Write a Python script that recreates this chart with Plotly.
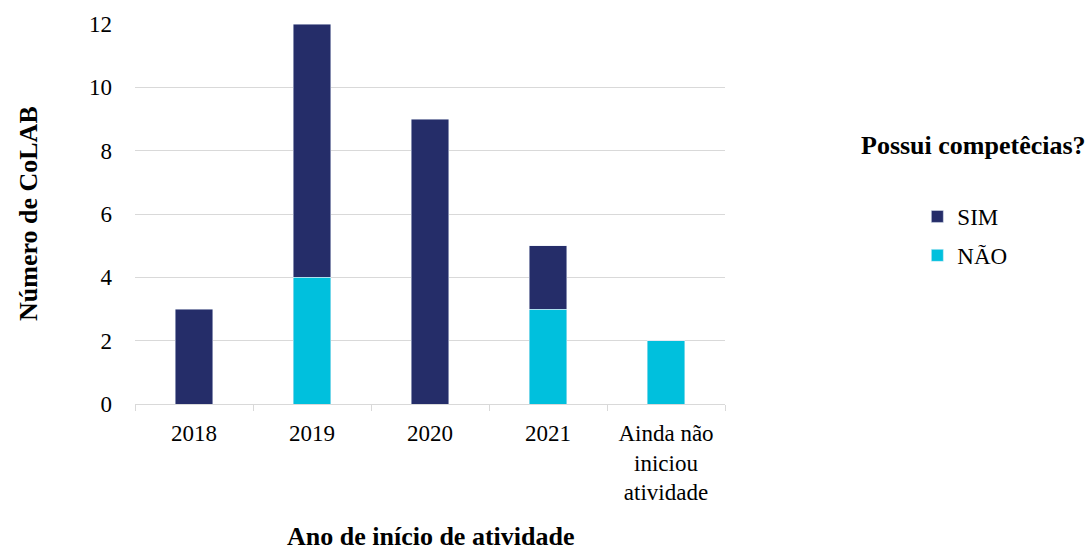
import plotly.graph_objects as go

categories = ["2018", "2019", "2020", "2021", "Ainda não<br>iniciou<br>atividade"]
sim_values = [3, 8, 9, 2, 0]
nao_values = [0, 4, 0, 3, 2]

SIM_COLOR = "#252D69"
NAO_COLOR = "#00C0DD"
GRID = "#D9D9D9"
FONT = "Liberation Serif"

fig = go.Figure()
fig.add_trace(go.Bar(x=categories, y=nao_values, name="NÃO", marker_color=NAO_COLOR,
                     legendgroup="nao", legendrank=2))
fig.add_trace(go.Bar(x=categories, y=sim_values, name="SIM", marker_color=SIM_COLOR,
                     legendgroup="sim", legendrank=1))

fig.update_layout(
    width=1091, height=555,
    margin=dict(l=135, r=366, t=24, b=151),
    barmode="stack", bargap=0.68,
    plot_bgcolor="white", paper_bgcolor="white",
    font=dict(family=FONT, size=23, color="#000000"),
    showlegend=True,
    legend=dict(x=1.326, y=0.55, xanchor="left", yanchor="top",
                traceorder="grouped", tracegroupgap=6,
                itemwidth=30, font=dict(size=23)),
    xaxis=dict(showline=True, linecolor=GRID, linewidth=1,
               ticks="outside", tickson="boundaries", ticklen=6, tickcolor=GRID,
               showgrid=False, ticklabelstandoff=8),
    yaxis=dict(range=[0, 12], dtick=2, showgrid=True, gridcolor=GRID, gridwidth=1,
               zeroline=False, showline=False, ticklabelstandoff=22),
    annotations=[
        dict(text="<b>Número de CoLAB</b>", textangle=-90, x=(28 - 135) / 590,
             xref="paper", y=0.5, yref="paper", xanchor="center", yanchor="middle",
             showarrow=False, font=dict(size=26)),
        dict(text="<b>Ano de início de atividade</b>", x=0.5, xref="paper",
             y=(404 - 553) / 380, yref="paper", xanchor="center", yanchor="bottom",
             showarrow=False, font=dict(size=26)),
        dict(text="<b>Possui competêcias?</b>", x=(974 - 135) / 590, xref="paper",
             y=(404 - 145) / 380, yref="paper", xanchor="center", yanchor="middle",
             showarrow=False, font=dict(size=26)),
    ],
)

fig.write_html("out.html")
